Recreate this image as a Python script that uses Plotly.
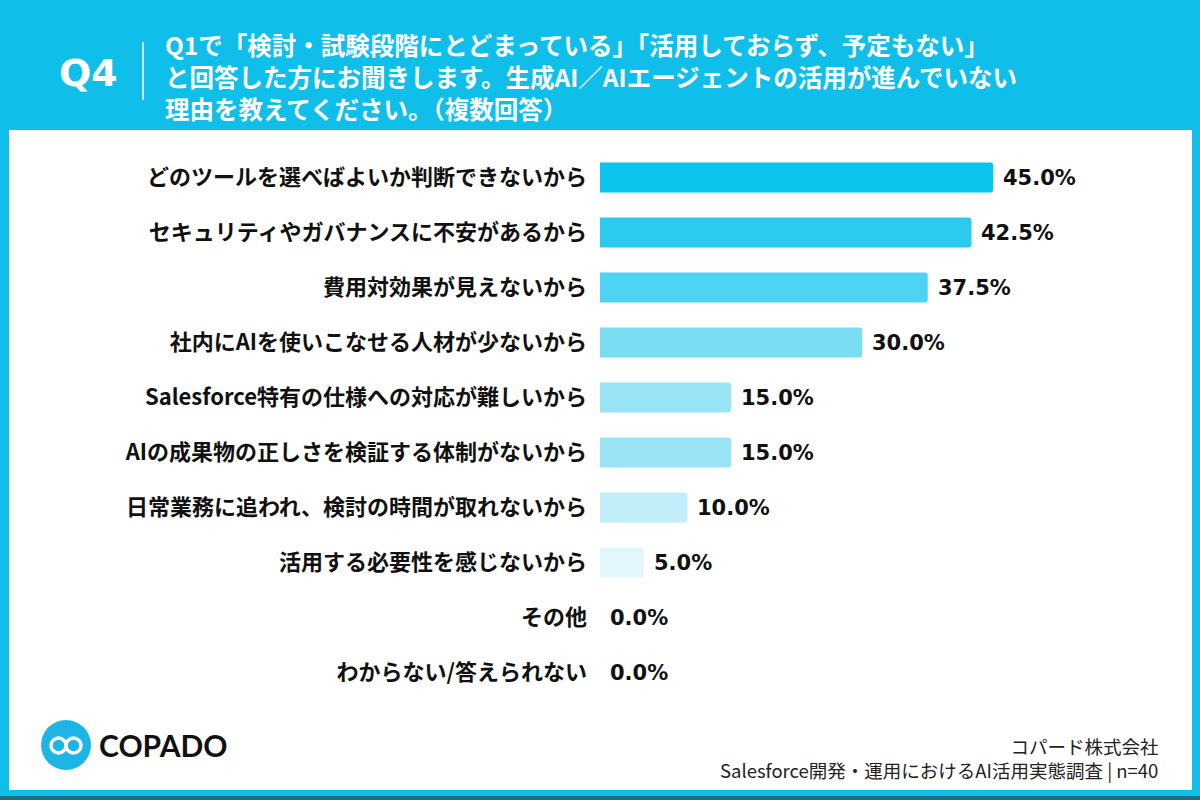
import plotly.graph_objects as go

categories = [
    "どのツールを選べばよいか判断できないから",
    "セキュリティやガバナンスに不安があるから",
    "費用対効果が見えないから",
    "社内にAIを使いこなせる人材が少ないから",
    "Salesforce特有の仕様への対応が難しいから",
    "AIの成果物の正しさを検証する体制がないから",
    "日常業務に追われ、検討の時間が取れないから",
    "活用する必要性を感じないから",
    "その他",
    "わからない/答えられない",
]
values = [45.0, 42.5, 37.5, 30.0, 15.0, 15.0, 10.0, 5.0, 0.0, 0.0]
bar_colors = ["#0BC3EC", "#2BCBEF", "#4ED4F2", "#7BDDF2", "#99E3F6", "#99E3F6",
              "#C2EEFA", "#E3F6FD", "#E3F6FD", "#E3F6FD"]

title_lines = [
    "Q1で「検討・試験段階にとどまっている」「活用しておらず、予定もない」",
    "と回答した方にお聞きします。生成AI／AIエージェントの活用が進んでいない",
    "理由を教えてください。（複数回答）",
]
source_lines = ["コパード株式会社", "Salesforce開発・運用におけるAI活用実態調査 | n=40"]

W, H = 1200, 800
ML, MR, MT, MB = 600, 10, 150, 100
PW, PH = W - ML - MR, H - MT - MB
BLUE = "#0FBFEA"
JP = "Noto Sans CJK JP"


def px(x):
    return (x - ML) / PW


def py(y):
    return (H - MB - y) / PH


fig = go.Figure(go.Bar(
    x=values, y=categories, orientation="h",
    marker=dict(color=bar_colors, line=dict(width=0), cornerradius=3),
    width=0.545,
    hoverinfo="skip",
))

shapes = [
    dict(type="rect", xref="paper", yref="paper", x0=px(9), x1=px(1192), y0=py(790), y1=py(130),
         fillcolor="white", line=dict(width=0), layer="below"),
    dict(type="rect", xref="paper", yref="paper", x0=px(0), x1=px(1200), y0=py(800), y1=py(796),
         fillcolor="#1C6F86", line=dict(width=0), layer="below"),
    dict(type="line", xref="paper", yref="paper", x0=px(143), x1=px(143), y0=py(42), y1=py(100),
         line=dict(color="white", width=1.5)),
    dict(type="circle", xref="paper", yref="paper", x0=px(41), x1=px(91), y0=py(770), y1=py(720),
         fillcolor="#1DB5E6", line=dict(width=0)),
    dict(type="circle", xref="paper", yref="paper", x0=px(51), x1=px(66), y0=py(753), y1=py(738),
         fillcolor="rgba(0,0,0,0)", line=dict(color="white", width=3.5)),
    dict(type="circle", xref="paper", yref="paper", x0=px(66), x1=px(81), y0=py(753), y1=py(738),
         fillcolor="rgba(0,0,0,0)", line=dict(color="white", width=3.5)),
]

annotations = [
    dict(text="Q4", x=px(88), y=py(73), xref="paper", yref="paper", showarrow=False,
         xanchor="center", yanchor="middle",
         font=dict(family="DejaVu Sans", size=38, weight="bold", color="white")),
    dict(text="COPADO", x=px(97), y=py(745), xref="paper", yref="paper", showarrow=False,
         xanchor="left", yanchor="middle",
         font=dict(family="Lato", size=30, weight="bold", color="#111111")),
    dict(text="<br>".join(title_lines), x=px(163), y=py(76), xref="paper", yref="paper",
         showarrow=False, xanchor="left", yanchor="middle", align="left",
         font=dict(family=JP, size=24.5, weight="bold", color="white")),
    dict(text="<br>".join(source_lines), x=px(1160), y=py(758), xref="paper", yref="paper",
         showarrow=False, xanchor="right", yanchor="middle", align="right",
         font=dict(family=JP, size=18.5, color="#222222")),
]
for cat, v in zip(categories, values):
    annotations.append(dict(text=f"{v:.1f}%", x=v, y=cat, xref="x", yref="y", showarrow=False,
                            xanchor="left", yanchor="middle", xshift=8,
                            font=dict(family="DejaVu Sans", size=21, weight="bold", color="#111111")))

fig.update_layout(
    width=W, height=H,
    margin=dict(l=ML, r=MR, t=MT, b=MB, pad=0),
    paper_bgcolor=BLUE, plot_bgcolor="white",
    showlegend=False,
    shapes=shapes, annotations=annotations,
    xaxis=dict(range=[0, PW / 8.74], visible=False, fixedrange=True),
    yaxis=dict(showgrid=False, zeroline=False, showline=False,
               ticks="", ticklabelstandoff=12,
               tickfont=dict(family=JP, size=22, weight="bold", color="#111111")),
)
fig.update_yaxes(range=[9.5, -0.5], autorange=False)

fig.write_html("out.html")
